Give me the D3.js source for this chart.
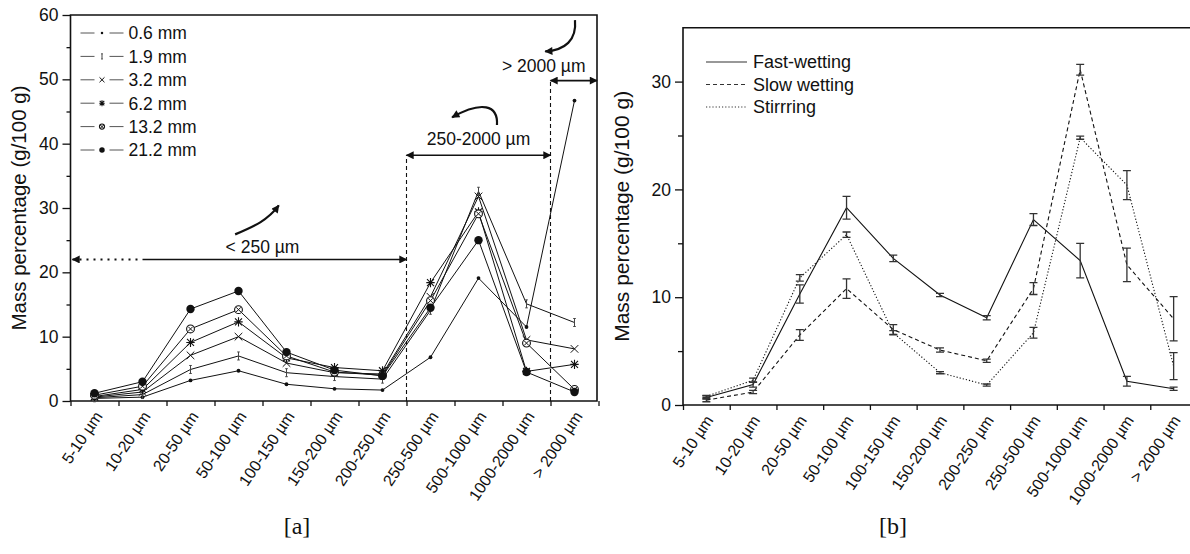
<!DOCTYPE html>
<html>
<head>
<meta charset="utf-8">
<script src="https://cdn.jsdelivr.net/npm/d3@7"></script>
<style>
  body { margin: 0; background: #fff; }
  svg text { font-family: "Liberation Sans", Arial, sans-serif; fill: #111; }
</style>
</head>
<body>
<div id="chart"></div>
<script>
// size classes on the x axis (both panels)
const categories = ["5-10 µm", "10-20 µm", "20-50 µm", "50-100 µm", "100-150 µm", "150-200 µm",
  "200-250 µm", "250-500 µm", "500-1000 µm", "1000-2000 µm", "> 2000 µm"];

// panel [a]: aggregate size series
const sizeNames = ["0.6 mm", "1.9 mm", "3.2 mm", "6.2 mm", "13.2 mm", "21.2 mm"];
const size06 = [0.4, 0.6, 3.2, 4.7, 2.6, 1.9, 1.7, 6.8, 19.1, 11.5, 46.7];
const size19 = [0.5, 1.0, 4.9, 7.0, 4.4, 3.8, 3.4, 14.1, 32.6, 15.1, 12.2];
const size32 = [0.6, 1.4, 7.1, 10.0, 5.9, 4.4, 4.2, 16.2, 31.8, 9.5, 8.1];
const size62 = [0.7, 1.8, 9.1, 12.3, 6.7, 5.2, 4.7, 18.4, 29.4, 4.6, 5.7];
const size132 = [0.9, 2.3, 11.2, 14.2, 7.0, 4.5, 4.0, 15.6, 29.1, 9.0, 1.8];
const size212 = [1.2, 3.0, 14.3, 17.1, 7.6, 4.8, 3.9, 14.5, 25.0, 4.5, 1.4];
const yTicksA = [0, 10, 20, 30, 40, 50, 60];

// panel [b]: pretreatment series with error bars
const methodNames = ["Fast-wetting", "Slow wetting", "Stirrring"];
const fastWet = [0.7, 1.9, 10.3, 18.3, 13.6, 10.2, 8.1, 17.2, 13.4, 2.2, 1.5];
const fastErr = [0.15, 0.25, 0.85, 1.05, 0.3, 0.15, 0.2, 0.55, 1.6, 0.45, 0.15];
const slowWet = [0.45, 1.2, 6.5, 10.8, 7.0, 5.1, 4.1, 10.8, 31.1, 13.0, 8.0];
const slowErr = [0.15, 0.15, 0.5, 0.9, 0.45, 0.2, 0.15, 0.55, 0.5, 1.55, 2.05];
const stirring = [0.8, 2.3, 11.8, 15.8, 6.7, 3.0, 1.85, 6.7, 24.8, 20.4, 3.6];
const stirErr = [0.1, 0.2, 0.3, 0.25, 0.2, 0.1, 0.1, 0.5, 0.15, 1.35, 1.25];
const yTicksB = [0, 10, 20, 30];

const W = 1190, H = 554;
const FS = "17.5px";   // tick labels, legend, notes
const FX = "16px";     // rotated category labels
const svg = d3.select("#chart").append("svg").attr("width", W).attr("height", H);

const defs = svg.append("defs");
defs.append("marker").attr("id", "head")
  .attr("viewBox", "0 0 10 10").attr("refX", 9).attr("refY", 5)
  .attr("markerWidth", 10).attr("markerHeight", 8).attr("markerUnits", "userSpaceOnUse")
  .attr("orient", "auto-start-reverse")
  .append("path").attr("d", "M0,0L10,5L0,10Z").attr("fill", "#111");

// marker shapes for panel [a]
function drawSymbol(g, kind, k) {
  const s = k || 1;
  if (kind === 0) {
    g.append("circle").attr("r", 1.9 * s).attr("fill", "#111");
  } else if (kind === 1) {
    g.append("path").attr("d", `M0,${-4 * s}V${4 * s}M${-1.3 * s},${-4 * s}H${1.3 * s}M${-1.3 * s},${4 * s}H${1.3 * s}`)
      .attr("stroke", "#444").attr("stroke-width", 1).attr("fill", "none");
  } else if (kind === 2) {
    const a = 3.8 * s;
    g.append("path").attr("d", `M${-a},${-a}L${a},${a}M${-a},${a}L${a},${-a}`)
      .attr("stroke", "#111").attr("stroke-width", 1).attr("fill", "none");
  } else if (kind === 3) {
    const a = 3.5 * s;
    g.append("path").attr("d", `M${-a},${-a}L${a},${a}M${-a},${a}L${a},${-a}M0,${-a * 1.3}V${a * 1.3}M${-a * 1.2},0H${a * 1.2}`)
      .attr("stroke", "#111").attr("stroke-width", 1.1).attr("fill", "none");
  } else if (kind === 4) {
    const r = 3.9 * s, a = 2.4 * s;
    g.append("circle").attr("r", r).attr("fill", "#fff").attr("stroke", "#111").attr("stroke-width", 1.1);
    g.append("path").attr("d", `M${-a},${-a}L${a},${a}M${-a},${a}L${a},${-a}`)
      .attr("stroke", "#111").attr("stroke-width", 1).attr("fill", "none");
  } else {
    g.append("circle").attr("r", 4.2 * s).attr("fill", "#111");
  }
}

// ---------- panel [a] ----------
const A = { left: 70.5, right: 598.5, top: 15, bottom: 401 };
const xA = d3.scaleBand().domain(categories).range([A.left, A.right]);
const uA = d3.scaleLinear().domain([0, categories.length]).range([A.left, A.right]); // band units
const yA = d3.scaleLinear().domain([0, 60]).range([A.bottom, A.top]);
const cxA = c => xA(c) + xA.bandwidth() / 2;

const gA = svg.append("g");

// y axis major + minor ticks
gA.append("g").attr("transform", `translate(${A.left},0)`)
  .call(d3.axisLeft(yA).tickValues(yTicksA).tickSize(8).tickPadding(4))
  .call(g => g.select(".domain").remove())
  .call(g => g.selectAll("text").style("font-size", FS).attr("font-family", null));
gA.append("g").attr("transform", `translate(${A.left},0)`)
  .call(d3.axisLeft(yA).tickValues(d3.range(5, 60, 10)).tickSize(4).tickFormat(""))
  .call(g => g.select(".domain").remove());

// x axis: ticks at band boundaries, labels at centres
gA.append("g").attr("transform", `translate(0,${A.bottom})`)
  .call(d3.axisBottom(uA).tickValues(d3.range(0, categories.length + 1)).tickSize(5).tickFormat(""))
  .call(g => g.select(".domain").remove());
gA.append("g").attr("transform", `translate(0,${A.bottom})`)
  .call(d3.axisBottom(xA).tickSize(0))
  .call(g => g.select(".domain").remove())
  .call(g => g.selectAll("text")
    .attr("x", 0).attr("y", 0).attr("dy", "0.35em")
    .attr("text-anchor", "end")
    .attr("transform", "translate(4,12) rotate(-56)")
    .style("font-size", FX).attr("font-family", null));

gA.selectAll(".tick line").attr("stroke", "#111").attr("stroke-width", 1.3);

// frame
gA.append("path")
  .attr("d", `M${A.left},${A.top}V${A.bottom}H${A.right - 1.5}V${A.top}Z`)
  .attr("fill", "none").attr("stroke", "#111").attr("stroke-width", 1.6);

gA.append("text")
  .attr("transform", `translate(19,${(A.top + A.bottom) / 2}) rotate(-90)`)
  .attr("text-anchor", "middle").attr("dy", "0.35em")
  .style("font-size", "20.5px").text("Mass percentage (g/100 g)");

// annotations
const ann = gA.append("g").attr("fill", "none").attr("stroke", "#111");
ann.append("line").attr("x1", uA(0) + 2).attr("x2", uA(1.5)).attr("y1", yA(22)).attr("y2", yA(22))
  .attr("stroke-width", 2).attr("stroke-dasharray", "2,5").attr("marker-start", "url(#head)");
ann.append("line").attr("x1", uA(1.5)).attr("x2", uA(7)).attr("y1", yA(22)).attr("y2", yA(22))
  .attr("stroke-width", 1.6).attr("marker-end", "url(#head)");
gA.append("text").attr("x", uA(4)).attr("y", yA(23)).attr("text-anchor", "middle")
  .style("font-size", FS).text("< 250 µm");

ann.append("line").attr("x1", uA(7)).attr("x2", uA(7)).attr("y1", yA(0)).attr("y2", yA(38.2))
  .attr("stroke-width", 1.1).attr("stroke-dasharray", "4,3");
ann.append("line").attr("x1", uA(7)).attr("x2", uA(10)).attr("y1", yA(38.2)).attr("y2", yA(38.2))
  .attr("stroke-width", 1.6).attr("marker-start", "url(#head)").attr("marker-end", "url(#head)");
gA.append("text").attr("x", uA(8.5)).attr("y", yA(39.8)).attr("text-anchor", "middle")
  .style("font-size", FS).text("250-2000 µm");

ann.append("line").attr("x1", uA(10)).attr("x2", uA(10)).attr("y1", yA(0)).attr("y2", yA(49.8))
  .attr("stroke-width", 1.1).attr("stroke-dasharray", "4,3");
ann.append("line").attr("x1", uA(10)).attr("x2", uA(11) - 1.5).attr("y1", yA(49.8)).attr("y2", yA(49.8))
  .attr("stroke-width", 1.6).attr("marker-start", "url(#head)").attr("marker-end", "url(#head)");
gA.append("text").attr("x", uA(9.86)).attr("y", yA(51.1)).attr("text-anchor", "middle")
  .style("font-size", FS).text("> 2000 µm");

// curved arrows, control points in (band units, value)
const curves = [
  [[3.43, 25.9], [3.84, 27.2], [4.11, 28.1], [4.34, 30.4]],
  [[8.885, 42.9], [8.91, 46.0], [8.57, 46.7], [7.95, 44.1]],
  [[10.51, 59.2], [10.55, 56.1], [10.3, 54.5], [9.89, 54.35]]
];
curves.forEach(c => {
  const p = c.map(d => [uA(d[0]), yA(d[1])]);
  ann.append("path")
    .attr("d", `M${p[0]}C${p[1]} ${p[2]} ${p[3]}`)
    .attr("stroke-width", 2.2).attr("marker-end", "url(#head)");
});

// data lines and markers
const seriesA = [size06, size19, size32, size62, size132, size212];
const lineA = d3.line().x((d, i) => cxA(categories[i])).y(d => yA(d));
seriesA.forEach(vals => {
  gA.append("path").datum(vals).attr("d", lineA)
    .attr("fill", "none").attr("stroke", "#111").attr("stroke-width", 1);
});
seriesA.forEach((vals, k) => {
  vals.forEach((v, i) => {
    const g = gA.append("g").attr("transform", `translate(${cxA(categories[i])},${yA(v)})`);
    drawSymbol(g, k, 1);
  });
});

// legend
const legA = gA.append("g").attr("transform", `translate(${A.left + 10},${A.top + 18})`);
sizeNames.forEach((name, k) => {
  const row = legA.append("g").attr("transform", `translate(0,${k * 23.4})`);
  row.append("line").attr("x1", 0).attr("x2", 14).attr("stroke", "#555").attr("stroke-width", 1);
  row.append("line").attr("x1", 29).attr("x2", 43).attr("stroke", "#555").attr("stroke-width", 1);
  drawSymbol(row.append("g").attr("transform", "translate(21.5,0)"), k, 0.65);
  row.append("text").attr("x", 48).attr("dy", "0.36em").style("font-size", FS).text(name);
});

svg.append("text").attr("x", 297).attr("y", 534).attr("text-anchor", "middle")
  .style("font-family", "Liberation Serif").style("font-size", "24px").text("[a]");

// ---------- panel [b] ----------
const B = { left: 683, right: 1197, top: 27.7, bottom: 405 };
const xB = d3.scaleBand().domain(categories).range([B.left, B.right]);
const uB = d3.scaleLinear().domain([0, categories.length]).range([B.left, B.right]);
const yB = d3.scaleLinear().domain([0, 35]).range([B.bottom, B.top]);
const cxB = c => xB(c) + xB.bandwidth() / 2;

const gB = svg.append("g");
gB.append("g").attr("transform", `translate(${B.left},0)`)
  .call(d3.axisLeft(yB).tickValues(yTicksB).tickSize(8).tickPadding(4))
  .call(g => g.select(".domain").remove())
  .call(g => g.selectAll("text").style("font-size", FS).attr("font-family", null));
gB.append("g").attr("transform", `translate(${B.left},0)`)
  .call(d3.axisLeft(yB).tickValues([5, 15, 25]).tickSize(5).tickFormat(""))
  .call(g => g.select(".domain").remove());
gB.append("g").attr("transform", `translate(0,${B.bottom})`)
  .call(d3.axisBottom(uB).tickValues(d3.range(0, categories.length + 1)).tickSize(5).tickFormat(""))
  .call(g => g.select(".domain").remove());
gB.append("g").attr("transform", `translate(0,${B.bottom})`)
  .call(d3.axisBottom(xB).tickSize(0))
  .call(g => g.select(".domain").remove())
  .call(g => g.selectAll("text")
    .attr("x", 0).attr("y", 0).attr("dy", "0.35em")
    .attr("text-anchor", "end")
    .attr("transform", "translate(3,12) rotate(-56)")
    .style("font-size", FX).attr("font-family", null));
gB.selectAll(".tick line").attr("stroke", "#111").attr("stroke-width", 1.3);

gB.append("path")
  .attr("d", `M${W},${B.top}H${B.left}V${B.bottom}H${W}`)
  .attr("fill", "none").attr("stroke", "#111").attr("stroke-width", 1.6);

gB.append("text")
  .attr("transform", `translate(622,${(B.top + B.bottom) / 2}) rotate(-90)`)
  .attr("text-anchor", "middle").attr("dy", "0.35em")
  .style("font-size", "21px").text("Mass percentage (g/100 g)");

const seriesB = [
  { vals: fastWet, err: fastErr, dash: null },
  { vals: slowWet, err: slowErr, dash: "4,3" },
  { vals: stirring, err: stirErr, dash: "1.2,2" }
];
const lineB = d3.line().x((d, i) => cxB(categories[i])).y(d => yB(d));
seriesB.forEach(s => {
  gB.append("path").datum(s.vals).attr("d", lineB)
    .attr("fill", "none").attr("stroke", "#111").attr("stroke-width", 1.1)
    .attr("stroke-dasharray", s.dash);
  s.vals.forEach((v, i) => {
    const x = cxB(categories[i]);
    const y1 = yB(v - s.err[i]), y2 = yB(v + s.err[i]);
    gB.append("path")
      .attr("d", `M${x},${y1}V${y2}M${x - 4},${y1}H${x + 4}M${x - 4},${y2}H${x + 4}`)
      .attr("fill", "none").attr("stroke", "#333").attr("stroke-width", 1.3);
  });
});

const legB = gB.append("g").attr("transform", `translate(706,62)`);
methodNames.forEach((name, k) => {
  const row = legB.append("g").attr("transform", `translate(0,${k * 22.5})`);
  row.append("line").attr("x1", 0).attr("x2", 41)
    .attr("stroke", "#333").attr("stroke-width", 1.1).attr("stroke-dasharray", seriesB[k].dash);
  row.append("text").attr("x", 47).attr("dy", "0.36em").style("font-size", "18px").text(name);
});

svg.append("text").attr("x", 893).attr("y", 534).attr("text-anchor", "middle")
  .style("font-family", "Liberation Serif").style("font-size", "24px").text("[b]");
</script>
</body>
</html>
